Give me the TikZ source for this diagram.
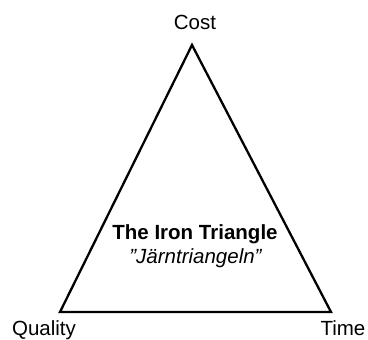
\documentclass[tikz,border=0pt]{standalone}
\usepackage{fontspec}
\setmainfont{Liberation Sans}
\begin{document}
\begin{tikzpicture}[x=1pt,y=-1pt,
  lbl/.style={inner sep=0pt,anchor=base,font=\fontsize{20.5}{24}\selectfont},
  edge/.style={line width=2.3pt,line join=miter}]
\useasboundingbox (0,0) rectangle (368,340);
\coordinate (C) at (192,45);
\coordinate (Q) at (60,312);
\coordinate (T) at (331,312);
\draw[edge] (C) -- (Q) -- (T) -- cycle;
\node[lbl] (cost) at (195,30) {Cost};
\node[lbl] (quality) at (44,335) {Quality};
\node[lbl] (time) at (343,336) {Time};
\node[lbl,font=\fontsize{20.5}{24}\selectfont\bfseries] (title) at (195,239.5) {The Iron Triangle};
\node[lbl,font=\fontsize{20.5}{24}\selectfont\itshape] (sub) at (195.5,263) {”Järntriangeln”};
\end{tikzpicture}
\end{document}
